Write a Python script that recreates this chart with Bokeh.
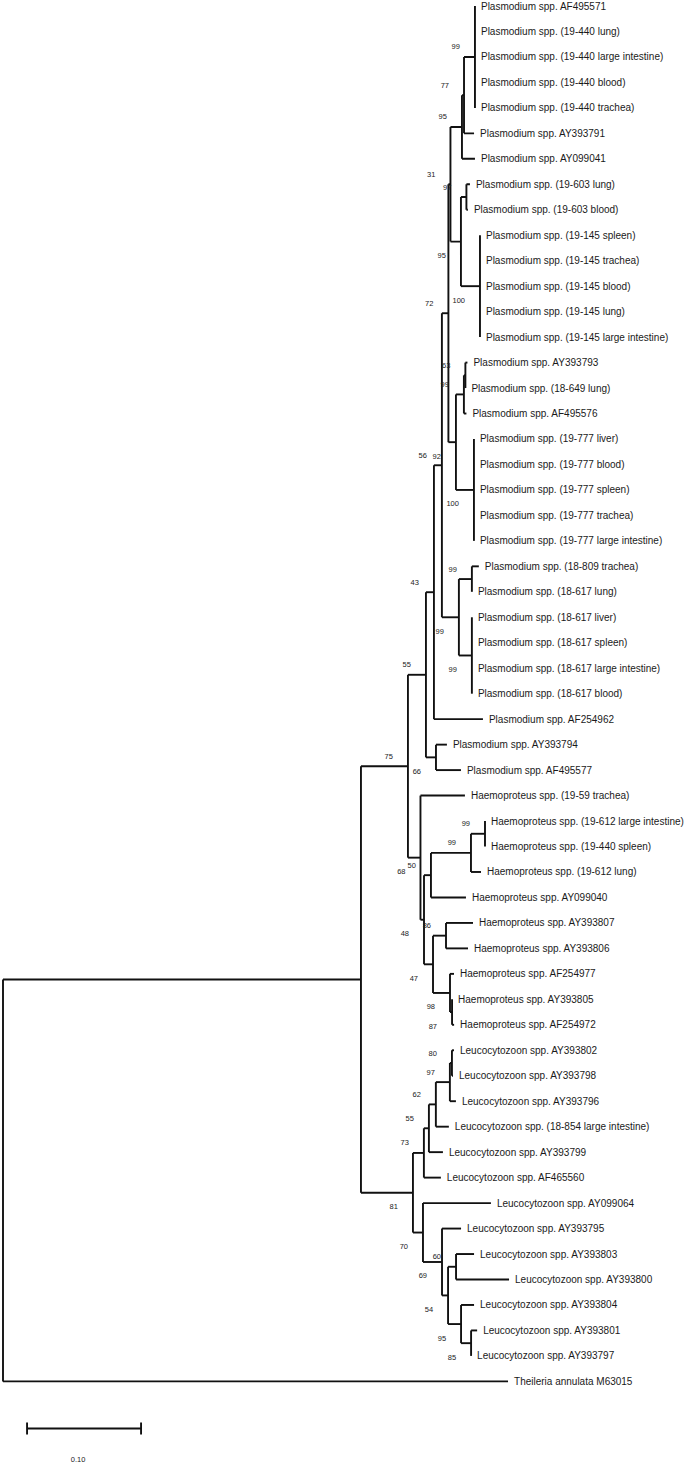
from bokeh.plotting import figure
from bokeh.models import ColumnDataSource, Range1d
from bokeh.embed import file_html
from bokeh.resources import INLINE
from bokeh.core.properties import value

# ---------------- data: Newick subtrees (branch lengths, bootstrap support) ----------------
PLASMODIUM = (
    "(((((((('Plasmodium spp. AF495571':0,'Plasmodium spp. (19-440 lung)':0,"
    "'Plasmodium spp. (19-440 large intestine)':0,'Plasmodium spp. (19-440 blood)':0,"
    "'Plasmodium spp. (19-440 trachea)':0)99:0.0096,'Plasmodium spp. AY393791':0.0088)77:0.0018,"
    "'Plasmodium spp. AY099041':0.0114)95:0.0101,"
    "(('Plasmodium spp. (19-603 lung)':0.0031,'Plasmodium spp. (19-603 blood)':0.0013)97:0.0048,"
    "('Plasmodium spp. (19-145 spleen)':0,'Plasmodium spp. (19-145 trachea)':0,"
    "'Plasmodium spp. (19-145 blood)':0,'Plasmodium spp. (19-145 lung)':0,"
    "'Plasmodium spp. (19-145 large intestine)':0)100:0.0167)95:0.0092)31:0.0018,"
    "((('Plasmodium spp. AY393793':0.0018,'Plasmodium spp. (18-649 lung)':0)63:0.0013,"
    "'Plasmodium spp. AF495576':0.0022)99:0.0070,"
    "('Plasmodium spp. (19-777 liver)':0,'Plasmodium spp. (19-777 blood)':0,"
    "'Plasmodium spp. (19-777 spleen)':0,'Plasmodium spp. (19-777 trachea)':0,"
    "'Plasmodium spp. (19-777 large intestine)':0)100:0.0158)92:0.0066)72:0.0057,"
    "(('Plasmodium spp. (18-809 trachea)':0.0061,'Plasmodium spp. (18-617 lung)':0)99:0.0114,"
    "('Plasmodium spp. (18-617 liver)':0,'Plasmodium spp. (18-617 spleen)':0,"
    "'Plasmodium spp. (18-617 large intestine)':0,'Plasmodium spp. (18-617 blood)':0)99:0.0114)99:0.0149)56:0.0070,"
    "'Plasmodium spp. AF254962':0.0430)43:0.0070,"
    "('Plasmodium spp. AY393794':0.0096,'Plasmodium spp. AF495577':0.0219)66:0.0088)55:0.0158"
)

HAEMOPROTEUS = (
    "('Haemoproteus spp. (19-59 trachea)':0.0390,"
    "(((('Haemoproteus spp. (19-612 large intestine)':0,'Haemoproteus spp. (19-440 spleen)':0)99:0.0123,"
    "'Haemoproteus spp. (19-612 lung)':0.0088)99:0.0351,'Haemoproteus spp. AY099040':0.0307)50:0.0061,"
    "(('Haemoproteus spp. AY393807':0.0237,'Haemoproteus spp. AY393806':0.0193)86:0.0114,"
    "('Haemoproteus spp. AF254977':0.0035,('Haemoproteus spp. AY393805':0,"
    "'Haemoproteus spp. AF254972':0.0018)87:0.0018)98:0.0149)47:0.0079)48:0.0031)68:0.0110"
)

LEUCOCYTOZOON = (
    "(((((('Leucocytozoon spp. AY393802':0.0018,'Leucocytozoon spp. AY393798':0.0009)80:0.0018,"
    "'Leucocytozoon spp. AY393796':0.0053)97:0.0123,"
    "'Leucocytozoon spp. (18-854 large intestine)':0.0114)62:0.0061,"
    "'Leucocytozoon spp. AY393799':0.0123)55:0.0044,'Leucocytozoon spp. AF465560':0.0149)73:0.0096,"
    "('Leucocytozoon spp. AY099064':0.0596,('Leucocytozoon spp. AY393795':0.0167,"
    "(('Leucocytozoon spp. AY393803':0.0158,'Leucocytozoon spp. AY393800':0.0465)60:0.0070,"
    "('Leucocytozoon spp. AY393804':0.0114,('Leucocytozoon spp. AY393801':0.0053,"
    "'Leucocytozoon spp. AY393797':0)85:0.0088)95:0.0114)54:0.0053)69:0.0167)70:0.0088)81:0.0456"
)

OUTGROUP = "'Theileria annulata M63015':0.4430"

INGROUP_SUPPORT = "75"
INGROUP_BL = 0.0412
ROOT_CHILD_BL = 0.3140

SCALE_LENGTH = 0.10
SCALE_LABEL = "0.10"

NEWICK = (f"((({PLASMODIUM},{HAEMOPROTEUS}){INGROUP_SUPPORT}:{INGROUP_BL},"
          f"{LEUCOCYTOZOON}):{ROOT_CHILD_BL},{OUTGROUP});")


# ---------------- parse ----------------
def parse_newick(s):
    i = 0
    n = len(s)

    def skip():
        nonlocal i
        while i < n and s[i] in " \n\t\r":
            i += 1

    def read_label():
        nonlocal i
        skip()
        if i < n and s[i] == "'":
            j = s.index("'", i + 1)
            lab = s[i + 1:j]
            i = j + 1
            return lab
        j = i
        while j < n and s[j] not in ":,();":
            j += 1
        lab = s[i:j].strip()
        i = j
        return lab

    def node():
        nonlocal i
        skip()
        nd = {"children": [], "label": "", "bl": 0.0, "parent": None}
        if s[i] == "(":
            i += 1
            while True:
                ch = node()
                ch["parent"] = nd
                nd["children"].append(ch)
                skip()
                if s[i] == ",":
                    i += 1
                    continue
                if s[i] == ")":
                    i += 1
                    break
        nd["label"] = read_label()
        skip()
        if i < n and s[i] == ":":
            i += 1
            j = i
            while j < n and s[j] not in ",();":
                j += 1
            nd["bl"] = float(s[i:j])
            i = j
        return nd

    return node()


root = parse_newick(NEWICK)
leaves = []


def layout(nd, x0):
    nd["x"] = x0 + nd["bl"]
    if not nd["children"]:
        nd["y"] = float(len(leaves))
        leaves.append(nd)
    else:
        for c in nd["children"]:
            layout(c, nd["x"])
        nd["y"] = (nd["children"][0]["y"] + nd["children"][-1]["y"]) / 2.0


root["bl"] = 0.0
layout(root, 0.0)

seg = dict(x0=[], y0=[], x1=[], y1=[])
up = dict(x=[], y=[], t=[])
down = dict(x=[], y=[], t=[])


def collect(nd):
    par = nd["parent"]
    if par is not None:
        seg["x0"].append(par["x"]); seg["y0"].append(nd["y"])
        seg["x1"].append(nd["x"]); seg["y1"].append(nd["y"])
    if nd["children"]:
        seg["x0"].append(nd["x"]); seg["y0"].append(nd["children"][0]["y"])
        seg["x1"].append(nd["x"]); seg["y1"].append(nd["children"][-1]["y"])
        if nd["label"] and par is not None:
            tgt = up if par["children"][0] is nd else down
            tgt["x"].append(nd["x"]); tgt["y"].append(nd["y"]); tgt["t"].append(nd["label"])
        for c in nd["children"]:
            collect(c)


collect(root)

# ---------------- figure ----------------
W, H = 685, 1463
SX = 1140.0          # px per substitution unit
SY = 25.47           # px per leaf
x_start = -2.5 / SX
y_top = -5.5 / SY
p = figure(width=W, height=H, output_backend="svg", toolbar_location=None,
           x_range=Range1d(x_start, x_start + W / SX),
           y_range=Range1d(y_top + H / SY, y_top),
           min_border=0, min_border_left=0, min_border_right=0,
           min_border_top=0, min_border_bottom=0)
p.axis.visible = False
p.grid.visible = False
p.outline_line_color = None
p.background_fill_color = "white"

p.segment("x0", "y0", "x1", "y1", source=ColumnDataSource(seg),
          line_color="#111111", line_width=1.9)

tips = dict(x=[l["x"] for l in leaves], y=[l["y"] for l in leaves],
            t=[l["label"] for l in leaves])
p.text("x", "y", text="t", source=ColumnDataSource(tips), x_offset=6,
       text_baseline="middle", text_align="left", text_font=value("Liberation Sans"),
       text_font_size="10px", text_color="#1a1a1a")

p.text("x", "y", text="t", source=ColumnDataSource(up), x_offset=-15, y_offset=-10,
       text_baseline="middle", text_align="right", text_font=value("Liberation Sans"),
       text_font_size="7.5px", text_color="#222222")
p.text("x", "y", text="t", source=ColumnDataSource(down), x_offset=-15, y_offset=14,
       text_baseline="middle", text_align="right", text_font=value("Liberation Sans"),
       text_font_size="7.5px", text_color="#222222")

# scale bar
sb_x = 0.0211
sb_y = 55.85
tick = 0.24
p.segment(x0=[sb_x, sb_x, sb_x + SCALE_LENGTH], y0=[sb_y, sb_y - tick, sb_y - tick],
          x1=[sb_x + SCALE_LENGTH, sb_x, sb_x + SCALE_LENGTH], y1=[sb_y, sb_y + tick, sb_y + tick],
          line_color="#111111", line_width=1.9)
p.text(x=[sb_x + SCALE_LENGTH / 2], y=[sb_y + 1.2], text=[SCALE_LABEL], x_offset=-6,
       text_baseline="middle", text_align="center", text_font=value("Liberation Sans"),
       text_font_size="7.5px", text_color="#222222")

open("out.html", "w").write(file_html(p, INLINE))
